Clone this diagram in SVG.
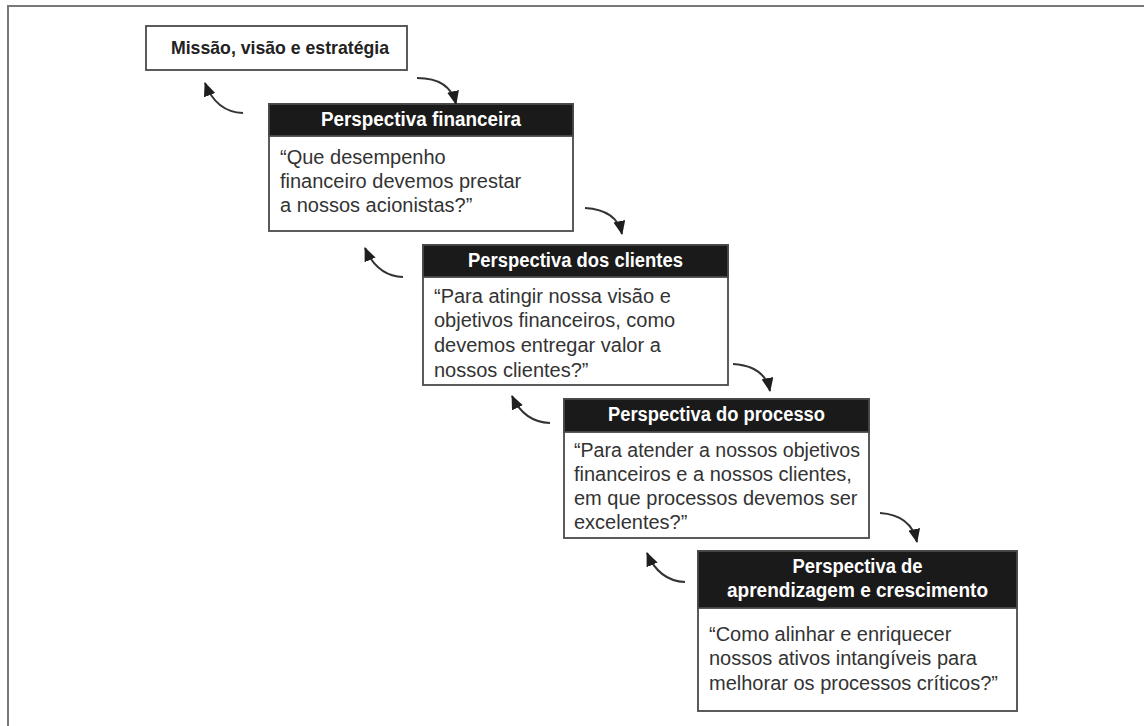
<svg xmlns="http://www.w3.org/2000/svg" width="1144" height="726" viewBox="0 0 1144 726">
<defs>
<style>
.frame{fill:none;stroke:#777;stroke-width:2}
.box{fill:#fff;stroke:#4a4a4a;stroke-width:1.8}
.hdr{fill:#1b1a1a;stroke:#4a4a4a;stroke-width:1.8}
.ht{font-family:"Liberation Sans",Arial,sans-serif;font-weight:bold;font-size:19.5px;fill:#fff;text-anchor:middle}
.mt{font-family:"Liberation Sans",Arial,sans-serif;font-weight:bold;font-size:18.5px;fill:#222;text-anchor:middle}
.bt{font-family:"Liberation Sans",Arial,sans-serif;font-size:20px;fill:#333}
.arr{fill:none;stroke:#333;stroke-width:2;marker-end:url(#ah)}
</style>
<marker id="ah" markerUnits="userSpaceOnUse" markerWidth="14" markerHeight="12" refX="13" refY="6" orient="auto" viewBox="0 0 14 12">
<path d="M0,0 L14,6 L0,12 z" fill="#1f1f1f"/>
</marker>
</defs>
<rect width="1144" height="726" fill="#fff"/>
<rect class="frame" x="8" y="6" width="1200" height="800"/>

<g id="missao">
<rect class="box" x="146" y="26" width="261" height="44"/>
<text class="mt" x="280" y="54" textLength="218" lengthAdjust="spacingAndGlyphs">Missão, visão e estratégia</text>
</g>

<g id="financeira">
<rect class="box" x="269" y="104" width="304" height="127"/>
<rect class="hdr" x="269" y="104" width="304" height="32"/>
<text class="ht" x="421" y="126" textLength="200" lengthAdjust="spacingAndGlyphs">Perspectiva financeira</text>
<text class="bt" x="280" y="164">“Que desempenho</text>
<text class="bt" x="280" y="188">financeiro devemos prestar</text>
<text class="bt" x="280" y="212">a nossos acionistas?”</text>
</g>

<g id="clientes">
<rect class="box" x="423" y="245" width="305" height="140"/>
<rect class="hdr" x="423" y="245" width="305" height="32"/>
<text class="ht" x="575.5" y="267" textLength="215" lengthAdjust="spacingAndGlyphs">Perspectiva dos clientes</text>
<text class="bt" x="434" y="303">“Para atingir nossa visão e</text>
<text class="bt" x="434" y="327">objetivos financeiros, como</text>
<text class="bt" x="434" y="352">devemos entregar valor a</text>
<text class="bt" x="434" y="377">nossos clientes?”</text>
</g>

<g id="processo">
<rect class="box" x="564" y="399" width="305" height="139"/>
<rect class="hdr" x="564" y="399" width="305" height="33"/>
<text class="ht" x="716.5" y="421" textLength="217" lengthAdjust="spacingAndGlyphs">Perspectiva do processo</text>
<text class="bt" x="574" y="457" textLength="286" lengthAdjust="spacingAndGlyphs">“Para atender a nossos objetivos</text>
<text class="bt" x="574" y="481">financeiros e a nossos clientes,</text>
<text class="bt" x="574" y="505">em que processos devemos ser</text>
<text class="bt" x="574" y="529">excelentes?”</text>
</g>

<g id="aprendizagem">
<rect class="box" x="698" y="551" width="319" height="160"/>
<rect class="hdr" x="698" y="551" width="319" height="57"/>
<text class="ht" x="857.5" y="573" textLength="130" lengthAdjust="spacingAndGlyphs">Perspectiva de</text>
<text class="ht" x="857.5" y="597" textLength="261" lengthAdjust="spacingAndGlyphs">aprendizagem e crescimento</text>
<text class="bt" x="709" y="641">“Como alinhar e enriquecer</text>
<text class="bt" x="709" y="665">nossos ativos intangíveis para</text>
<text class="bt" x="709" y="690">melhorar os processos críticos?”</text>
</g>

<g id="connectors">
<path class="arr" d="M417,78 Q450,78 456,104"/>
<path class="arr" d="M243,113 Q216,112 205,83"/>
<path class="arr" d="M585,208 Q617,210 622,234"/>
<path class="arr" d="M403,277 Q377,276 365,248"/>
<path class="arr" d="M733,364 Q765,366 770,391"/>
<path class="arr" d="M550,423 Q524,422 512,396"/>
<path class="arr" d="M880,513 Q911,515 917,542"/>
<path class="arr" d="M685,582 Q659,581 647,553"/>
</g>
</svg>
